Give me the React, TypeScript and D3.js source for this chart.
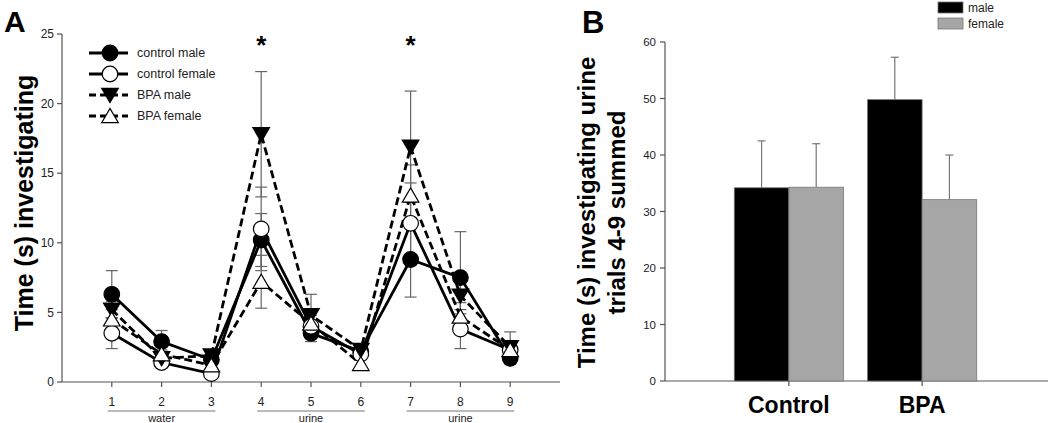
import React from "react";
import * as d3 from "d3";

// ---------- Panel A data ----------
const trials = [1, 2, 3, 4, 5, 6, 7, 8, 9];
const controlMale = [6.3, 2.9, 1.6, 10.2, 3.5, 2.2, 8.8, 7.5, 1.7];
const controlMaleErr = [1.7, 0.8, 0.4, 1.9, 0.6, 0.4, 2.7, 3.3, 0.4];
const controlFemale = [3.5, 1.4, 0.6, 11.0, 4.0, 2.0, 11.4, 3.8, 2.3];
const controlFemaleErr = [1.1, 0.3, 0.2, 3.0, 0.8, 0.3, 2.9, 1.4, 0.4];
const bpaMale = [5.2, 1.7, 1.9, 17.8, 4.8, 2.3, 16.9, 6.2, 2.5];
const bpaMaleErr = [0.6, 0.4, 0.3, 4.5, 1.5, 0.4, 4.0, 1.3, 1.1];
const bpaFemale = [4.5, 2.0, 1.2, 7.2, 4.2, 1.3, 13.4, 4.7, 2.3];
const bpaFemaleErr = [0.7, 0.3, 0.3, 1.9, 1.0, 0.4, 2.2, 1.0, 0.5];
const yTicksA = [0, 5, 10, 15, 20, 25];
const groupLabels = [
  { from: 1, to: 3, label: "water" },
  { from: 4, to: 6, label: "urine" },
  { from: 7, to: 9, label: "urine" },
];
const starTrials = [4, 7];

// ---------- Panel B data ----------
const groups = ["Control", "BPA"];
const maleTotals = [34.2, 49.8];
const maleTotalsErr = [8.3, 7.5];
const femaleTotals = [34.3, 32.1];
const femaleTotalsErr = [7.7, 7.9];
const yTicksB = [0, 10, 20, 30, 40, 50, 60];

const FONT = "'Liberation Sans', Arial, Helvetica, sans-serif";

type Series = {
  name: string;
  values: number[];
  err: number[];
  dashed: boolean;
  marker: "circle" | "down" | "up";
  fill: string;
};

const series: Series[] = [
  { name: "control male", values: controlMale, err: controlMaleErr, dashed: false, marker: "circle", fill: "#000" },
  { name: "control female", values: controlFemale, err: controlFemaleErr, dashed: false, marker: "circle", fill: "#fff" },
  { name: "BPA male", values: bpaMale, err: bpaMaleErr, dashed: true, marker: "down", fill: "#000" },
  { name: "BPA female", values: bpaFemale, err: bpaFemaleErr, dashed: true, marker: "up", fill: "#fff" },
];

function Marker({ type, x, y, fill }: { type: string; x: number; y: number; fill: string }) {
  if (type === "circle") {
    return <circle cx={x} cy={y} r={7.8} fill={fill} stroke="#000" strokeWidth={1.2} />;
  }
  const s = 8.3;
  const pts =
    type === "down"
      ? `${x - s},${y - s * 0.8} ${x + s},${y - s * 0.8} ${x},${y + s * 0.9}`
      : `${x - s},${y + s * 0.8} ${x + s},${y + s * 0.8} ${x},${y - s * 0.9}`;
  return <polygon points={pts} fill={fill} stroke="#000" strokeWidth={1.2} />;
}

export default function App() {
  const W = 1050;
  const H = 423;

  // Panel A scales
  const xA = d3.scaleLinear().domain([0, 10]).range([62, 560]);
  const yA = d3.scaleLinear().domain([0, 25]).range([382, 34]);
  const line = d3
    .line<number>()
    .x((_, i) => xA(trials[i]))
    .y((d) => yA(d));

  // Panel B scales
  const xB = d3.scaleBand().domain(groups).range([665, 1046]).paddingInner(0.18).paddingOuter(0.52);
  const yB = d3.scaleLinear().domain([0, 60]).range([381, 42]);
  const sub = d3.scaleBand().domain(["male", "female"]).range([0, xB.bandwidth()]);

  const axisGrey = "#555";

  return (
    <svg width={W} height={H} style={{ position: "absolute", left: 0, top: 0, background: "#fff" }} fontFamily={FONT}>
      {/* Panel letters */}
      <text x={4} y={32} fontSize={30} fontWeight="bold">A</text>
      <text x={582} y={33} fontSize={31} fontWeight="bold">B</text>

      {/* ===== Panel A ===== */}
      <text
        transform={`translate(33, 203) rotate(-90)`}
        textAnchor="middle"
        fontSize={25}
        fontWeight="bold"
      >
        Time (s) investigating
      </text>
      {/* y axis */}
      <line x1={xA(0)} x2={xA(0)} y1={yA(0)} y2={yA(25)} stroke={axisGrey} strokeWidth={1.2} />
      {yTicksA.map((t) => (
        <g key={t}>
          <line x1={xA(0) - 5} x2={xA(0)} y1={yA(t)} y2={yA(t)} stroke={axisGrey} strokeWidth={1.2} />
          <text x={xA(0) - 8} y={yA(t)} dy="0.35em" textAnchor="end" fontSize={12} fill="#222">
            {t}
          </text>
        </g>
      ))}
      {/* x axis */}
      <line x1={xA(0)} x2={xA(10)} y1={yA(0)} y2={yA(0)} stroke={axisGrey} strokeWidth={1.2} />
      {trials.map((t) => (
        <g key={t}>
          <line x1={xA(t)} x2={xA(t)} y1={yA(0)} y2={yA(0) + 5} stroke={axisGrey} strokeWidth={1.2} />
          <text x={xA(t)} y={yA(0) + 24} textAnchor="middle" fontSize={12} fill="#222">
            {t}
          </text>
        </g>
      ))}
      {groupLabels.map((g, i) => (
        <g key={i}>
          <line x1={xA(g.from) - 4} x2={xA(g.to) + 4} y1={411} y2={411} stroke="#777" strokeWidth={1.2} />
          <text x={(xA(g.from) + xA(g.to)) / 2} y={422} textAnchor="middle" fontSize={11} fill="#222">
            {g.label}
          </text>
        </g>
      ))}

      {/* error bars */}
      {series.map((s) =>
        s.values.map((v, i) => {
          const x = xA(trials[i]);
          const e = s.err[i];
          return (
            <g key={s.name + i} stroke="#666" strokeWidth={1.2}>
              <line x1={x} x2={x} y1={yA(v - e)} y2={yA(v + e)} />
              <line x1={x - 6} x2={x + 6} y1={yA(v + e)} y2={yA(v + e)} />
              <line x1={x - 6} x2={x + 6} y1={yA(v - e)} y2={yA(v - e)} />
            </g>
          );
        })
      )}
      {/* lines */}
      {series.map((s) => (
        <path
          key={s.name}
          d={line(s.values) || ""}
          fill="none"
          stroke="#000"
          strokeWidth={2.8}
          strokeDasharray={s.dashed ? "8,4" : undefined}
        />
      ))}
      {/* markers */}
      {series.map((s) =>
        s.values.map((v, i) => <Marker key={s.name + "m" + i} type={s.marker} x={xA(trials[i])} y={yA(v)} fill={s.fill} />)
      )}
      {/* asterisks */}
      {starTrials.map((t) => (
        <text key={t} x={xA(t)} y={54} textAnchor="middle" fontSize={26} fontWeight="bold">
          *
        </text>
      ))}
      {/* legend */}
      {series.map((s, i) => {
        const ly = 53 + i * 21;
        return (
          <g key={s.name + "leg"}>
            <line
              x1={89}
              x2={128}
              y1={ly}
              y2={ly}
              stroke="#000"
              strokeWidth={2.8}
              strokeDasharray={s.dashed ? "7,4" : undefined}
            />
            <Marker type={s.marker} x={110} y={ly} fill={s.fill} />
            <text x={137} y={ly} dy="0.35em" fontSize={12.5} fill="#222">
              {s.name}
            </text>
          </g>
        );
      })}

      {/* ===== Panel B ===== */}
      <text
        transform={`translate(595, ${yB(30) + 1}) rotate(-90)`}
        textAnchor="middle"
        fontSize={24}
        fontWeight="bold"
      >
        <tspan x={0} dy={0}>Time (s) investigating urine</tspan>
        <tspan x={0} dy={30}>trials 4-9 summed</tspan>
      </text>
      <line x1={665} x2={665} y1={yB(0)} y2={yB(60)} stroke={axisGrey} strokeWidth={1.2} />
      {yTicksB.map((t) => (
        <g key={t}>
          <line x1={660} x2={665} y1={yB(t)} y2={yB(t)} stroke={axisGrey} strokeWidth={1.2} />
          <text x={656} y={yB(t)} dy="0.35em" textAnchor="end" fontSize={11.5} fill="#222">
            {t}
          </text>
        </g>
      ))}
      <line x1={665} x2={1048} y1={yB(0)} y2={yB(0)} stroke={axisGrey} strokeWidth={1.2} />
      {groups.map((g, gi) => {
        const x0 = xB(g) as number;
        const cx = x0 + xB.bandwidth() / 2;
        const bars = [
          { key: "male", v: maleTotals[gi], e: maleTotalsErr[gi], fill: "#000" },
          { key: "female", v: femaleTotals[gi], e: femaleTotalsErr[gi], fill: "#a6a6a6" },
        ];
        return (
          <g key={g}>
            {bars.map((b) => {
              const bx = x0 + (sub(b.key) as number);
              const mid = bx + sub.bandwidth() / 2;
              return (
                <g key={b.key}>
                  <line x1={mid} x2={mid} y1={yB(b.v)} y2={yB(b.v + b.e)} stroke="#777" strokeWidth={1.2} />
                  <line x1={mid - 4} x2={mid + 4} y1={yB(b.v + b.e)} y2={yB(b.v + b.e)} stroke="#777" strokeWidth={1.2} />
                  <rect
                    x={bx}
                    y={yB(b.v)}
                    width={sub.bandwidth()}
                    height={yB(0) - yB(b.v)}
                    fill={b.fill}
                    stroke="#777"
                    strokeWidth={0.8}
                  />
                </g>
              );
            })}
            <line x1={cx} x2={cx} y1={yB(0)} y2={yB(0) + 5} stroke={axisGrey} strokeWidth={1.2} />
            <text x={cx} y={413} textAnchor="middle" fontSize={23} fontWeight="bold">
              {g}
            </text>
          </g>
        );
      })}
      {/* legend B */}
      <rect x={938} y={2} width={25} height={11} fill="#000" stroke="#777" strokeWidth={0.8} />
      <text x={968} y={8} dy="0.35em" fontSize={12} fill="#222">male</text>
      <rect x={938} y={18} width={25} height={11} fill="#a6a6a6" stroke="#777" strokeWidth={0.8} />
      <text x={968} y={24} dy="0.35em" fontSize={12} fill="#222">female</text>
    </svg>
  );
}
